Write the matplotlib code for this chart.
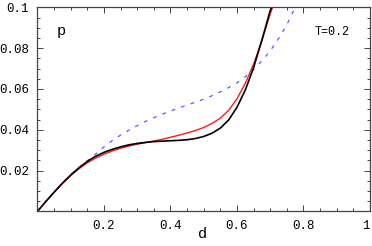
import matplotlib
matplotlib.use("Agg")
import matplotlib.pyplot as plt
from matplotlib.ticker import MultipleLocator, FixedLocator, FixedFormatter

# isotherm T=0.2: density d vs pressure p
d_black = [0, 0.025, 0.05, 0.075, 0.1, 0.125, 0.15, 0.175, 0.2, 0.225, 0.25, 0.275, 0.3,
           0.325, 0.35, 0.375, 0.4, 0.425, 0.45, 0.475, 0.5, 0.525, 0.55, 0.575, 0.6,
           0.625, 0.65, 0.675, 0.7, 0.704]
p_black = [0, 0.0048, 0.0094, 0.0138, 0.0178, 0.0214, 0.0245, 0.0270, 0.0289, 0.0304,
           0.0316, 0.0326, 0.0333, 0.0338, 0.0342, 0.0344, 0.0346, 0.0348, 0.0351, 0.0357,
           0.0367, 0.0383, 0.0408, 0.0448, 0.0510, 0.0595, 0.0705, 0.0840, 0.0985, 0.1]

d_red = [0, 0.025, 0.05, 0.075, 0.1, 0.125, 0.15, 0.175, 0.2, 0.225, 0.25, 0.275, 0.3,
         0.325, 0.35, 0.375, 0.4, 0.425, 0.45, 0.475, 0.5, 0.525, 0.55, 0.575, 0.6,
         0.625, 0.65, 0.675, 0.7, 0.707]
p_red = [0, 0.0048, 0.0093, 0.0136, 0.0175, 0.0209, 0.0238, 0.0261, 0.0280, 0.0296,
         0.0309, 0.0320, 0.0329, 0.0337, 0.0345, 0.0353, 0.0363, 0.0373, 0.0384, 0.0396,
         0.0411, 0.0431, 0.0457, 0.0495, 0.0552, 0.0628, 0.0722, 0.0838, 0.0968, 0.1]

d_blue = [0, 0.025, 0.05, 0.075, 0.1, 0.125, 0.15, 0.175, 0.2, 0.225, 0.25, 0.275, 0.3,
          0.325, 0.35, 0.375, 0.4, 0.425, 0.45, 0.475, 0.5, 0.525, 0.55, 0.575, 0.6,
          0.625, 0.65, 0.675, 0.7, 0.725, 0.75, 0.775]
p_blue = [0, 0.0048, 0.0095, 0.0139, 0.0180, 0.0215, 0.0248, 0.0281, 0.0316, 0.0347,
          0.0374, 0.0398, 0.0420, 0.0441, 0.0459, 0.0476, 0.0492, 0.0507, 0.0521, 0.0535,
          0.0550, 0.0567, 0.0586, 0.0607, 0.0630, 0.0660, 0.0696, 0.0738, 0.0787, 0.0847,
          0.0915, 0.1]

x_ticks = [0.2, 0.4, 0.6, 0.8, 1.0]
x_labels = ["0.2", "0.4", "0.6", "0.8", "1"]
y_ticks = [0.02, 0.04, 0.06, 0.08, 0.1]
y_labels = ["0.02", "0.04", "0.06", "0.08", "0.1"]

plt.rcParams["font.family"] = ["Liberation Mono", "DejaVu Sans Mono"]

fig = plt.figure(figsize=(3.72, 2.46), dpi=100)
ax = fig.add_axes([0.1008, 0.141, 0.8938, 0.829])

ax.plot(d_blue, p_blue, color="#5a5aff", lw=0.9, dashes=(3, 5))
ax.plot(d_red, p_red, color="#ff1a1a", lw=1.0, solid_joinstyle="round")
ax.plot(d_black, p_black, color="black", lw=1.2, solid_joinstyle="round")

ax.set_xlim(0, 1)
ax.set_ylim(0, 0.1)
ax.xaxis.set_major_locator(FixedLocator(x_ticks))
ax.xaxis.set_major_formatter(FixedFormatter(x_labels))
ax.yaxis.set_major_locator(FixedLocator(y_ticks))
ax.yaxis.set_major_formatter(FixedFormatter(y_labels))
ax.xaxis.set_minor_locator(MultipleLocator(0.05))
ax.yaxis.set_minor_locator(MultipleLocator(0.005))
ax.tick_params(which="both", direction="in", top=True, right=True,
               color="#444444", width=0.7, labelsize=9)
ax.tick_params(which="major", length=4, pad=6)
ax.tick_params(which="minor", length=2)
# last x label sits at the figure edge, keep it inside
ax.get_xticklabels()[-1].set_horizontalalignment("right")

for spine in ax.spines.values():
    spine.set_edgecolor("#444444")
    spine.set_linewidth(0.9)

ax.text(0.058, 0.0865, "p", fontsize=11)
ax.text(0.94, 0.0865, "T=0.2", fontsize=8.5, ha="right")
fig.text(203 / 372, 1 - 234 / 246, "d", fontsize=11, ha="center", va="center")

fig.savefig("out.png", dpi=100)
